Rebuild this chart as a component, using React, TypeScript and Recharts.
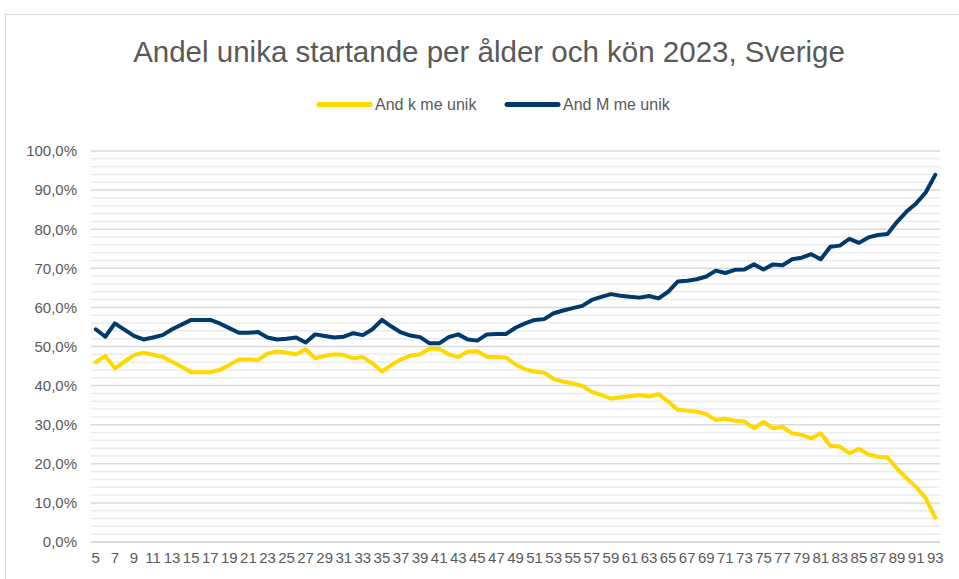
import React from 'react';
import { LineChart, Line, XAxis, YAxis, CartesianGrid } from 'recharts';

const TITLE = 'Andel unika startande per ålder och kön 2023, Sverige';
const SERIES_K = 'And k me unik';
const SERIES_M = 'And M me unik';

const AGES = [
  '5', '6', '7', '8', '9', '10', '11', '12', '13', '14', '15', '16', '17', '18', '19', '20',
  '21', '22', '23', '24', '25', '26', '27', '28', '29', '30', '31', '32', '33', '34', '35', '36',
  '37', '38', '39', '40', '41', '42', '43', '44', '45', '46', '47', '48', '49', '50', '51', '52',
  '53', '54', '55', '56', '57', '58', '59', '60', '61', '62', '63', '64', '65', '66', '67', '68',
  '69', '70', '71', '72', '73', '74', '75', '76', '77', '78', '79', '80', '81', '82', '83', '84',
  '85', '86', '87', '88', '89', '90', '91', '92', '93',
];

const K_VALUES = [
  46.0, 47.6, 44.4, 46.1, 47.8, 48.4, 47.9, 47.4, 46.1, 44.8, 43.4, 43.4, 43.4, 44.0, 45.3, 46.7,
  46.7, 46.5, 48.2, 48.7, 48.4, 48.0, 49.3, 47.0, 47.6, 48.0, 47.8, 47.0, 47.3, 45.7, 43.6, 45.3,
  46.7, 47.7, 48.0, 49.5, 49.4, 48.0, 47.3, 48.7, 48.8, 47.4, 47.3, 47.2, 45.4, 44.2, 43.6, 43.3,
  41.7, 41.0, 40.6, 39.9, 38.4, 37.6, 36.7, 37.0, 37.3, 37.6, 37.2, 37.8, 35.9, 33.8, 33.6, 33.3,
  32.7, 31.2, 31.5, 31.0, 30.8, 29.1, 30.7, 29.1, 29.4, 27.8, 27.4, 26.5, 27.8, 24.6, 24.4, 22.7,
  23.8, 22.4, 21.8, 21.6, 18.8, 16.3, 14.1, 11.2, 6.2,
];

const M_VALUES = [
  54.4, 52.5, 55.9, 54.3, 52.7, 51.8, 52.3, 52.9, 54.4, 55.6, 56.8, 56.8, 56.8, 55.9, 54.7, 53.5,
  53.5, 53.7, 52.3, 51.8, 52.0, 52.3, 51.0, 53.1, 52.7, 52.3, 52.5, 53.4, 52.9, 54.4, 56.8, 55.1,
  53.6, 52.8, 52.4, 50.8, 50.8, 52.4, 53.1, 51.8, 51.5, 53.1, 53.2, 53.2, 54.8, 55.9, 56.8, 57.0,
  58.5, 59.2, 59.8, 60.4, 61.9, 62.7, 63.4, 63.0, 62.7, 62.5, 62.9, 62.3, 64.0, 66.6, 66.8, 67.2,
  67.9, 69.4, 68.8, 69.6, 69.7, 71.0, 69.7, 71.0, 70.8, 72.3, 72.7, 73.6, 72.3, 75.5, 75.8, 77.5,
  76.5, 77.9, 78.5, 78.8, 81.9, 84.5, 86.6, 89.4, 93.9,
];

const Y_DOMAIN = [0, 100];
const Y_TICKS = [0, 10, 20, 30, 40, 50, 60, 70, 80, 90, 100];
const Y_MINOR_TICKS = [
  2, 4, 6, 8, 12, 14, 16, 18, 22, 24, 26, 28, 32, 34, 36, 38, 42, 44, 46, 48,
  52, 54, 56, 58, 62, 64, 66, 68, 72, 74, 76, 78, 82, 84, 86, 88, 92, 94, 96, 98,
];

const data = AGES.map((age, i) => ({ age, k: K_VALUES[i], m: M_VALUES[i] }));

const YELLOW = '#FFD800';
const BLUE = '#003A6B';
const TEXT = '#595959';
const FONT = '"Liberation Sans", Arial, sans-serif';

const fmtPct = (v: number) => v.toFixed(1).replace('.', ',') + '%';

const minorGridCoords = (props: any) => {
  const s = props && props.yAxis && props.yAxis.scale;
  if (typeof s === 'function') return Y_MINOR_TICKS.map((v) => s(v));
  if (s && typeof s.map === 'function') return Y_MINOR_TICKS.map((v) => s.map(v));
  if (s && typeof s.apply === 'function') return Y_MINOR_TICKS.map((v) => s.apply(v));
  const off = props && props.offset;
  if (!off) return [];
  const [lo, hi] = Y_DOMAIN;
  return Y_MINOR_TICKS.map((v) => off.top + off.height * (1 - (v - lo) / (hi - lo)));
};

export default function App() {
  return (
    <div style={{ position: 'absolute', left: 0, top: 0, width: 959, height: 579, background: '#fff', overflow: 'hidden', fontFamily: FONT }}>
      <div style={{ position: 'absolute', left: 5, top: 14, width: 1000, height: 1000, borderLeft: '1.5px solid #D9D9D9', borderTop: '1.5px solid #D9D9D9', boxSizing: 'border-box' }} />
      <div style={{ position: 'absolute', left: 0, top: 0 }}>
        <LineChart width={959} height={579} data={data} margin={{ top: 151, right: 19, bottom: 0, left: 0 }}>
          <CartesianGrid
            yAxisId="main"
            vertical={false}
            stroke="#EBEBEB"
            strokeWidth={1.5}
            horizontalCoordinatesGenerator={minorGridCoords}
          />
          <CartesianGrid yAxisId="main" vertical={false} stroke="#D9D9D9" strokeWidth={1.5} />
          <XAxis
            dataKey="age"
            scale="band"
            interval={1}
            tickLine={false}
            tickSize={0}
            tickMargin={10}
            height={37}
            axisLine={{ stroke: '#D9D9D9', strokeWidth: 1.5 }}
            tick={{ fill: TEXT, fontSize: 15, fontFamily: FONT }}
          />
          <YAxis
            yAxisId="main"
            domain={Y_DOMAIN}
            ticks={Y_TICKS}
            type="number"
            width={91}
            axisLine={false}
            tickLine={false}
            tickSize={0}
            tickMargin={14}
            tickFormatter={fmtPct}
            tick={{ fill: TEXT, fontSize: 15, fontFamily: FONT }}
          />
          <Line yAxisId="main" type="linear" dataKey="k" name={SERIES_K} stroke={YELLOW} strokeWidth={4} dot={false} isAnimationActive={false} strokeLinejoin="round" strokeLinecap="round" />
          <Line yAxisId="main" type="linear" dataKey="m" name={SERIES_M} stroke={BLUE} strokeWidth={4} dot={false} isAnimationActive={false} strokeLinejoin="round" strokeLinecap="round" />
        </LineChart>
      </div>
      <svg width={959} height={130} style={{ position: 'absolute', left: 0, top: 0, pointerEvents: 'none' }}>
        <text x={489} y={62} textAnchor="middle" fill={TEXT} fontSize={29.5} fontFamily={FONT}>{TITLE}</text>
        <line x1={319} y1={104.5} x2={370} y2={104.5} stroke={YELLOW} strokeWidth={5} strokeLinecap="round" />
        <text x={375} y={110} fill={TEXT} fontSize={16} fontFamily={FONT}>{SERIES_K}</text>
        <line x1={507} y1={104.5} x2={558} y2={104.5} stroke={BLUE} strokeWidth={5} strokeLinecap="round" />
        <text x={563} y={110} fill={TEXT} fontSize={16} fontFamily={FONT}>{SERIES_M}</text>
      </svg>
    </div>
  );
}
